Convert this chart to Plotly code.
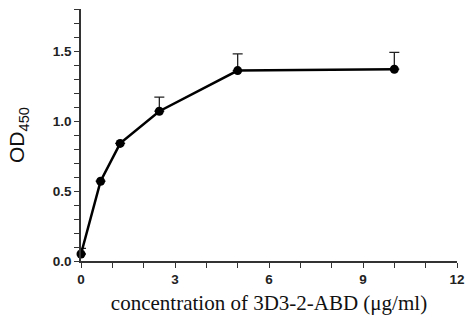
import plotly.graph_objects as go

conc = [0, 0.625, 1.25, 2.5, 5, 10]
od450 = [0.05, 0.57, 0.84, 1.07, 1.36, 1.37]
err = [0.04, 0.0, 0.0, 0.10, 0.12, 0.12]

fig = go.Figure()
fig.add_trace(go.Scatter(
    x=conc, y=od450, mode="lines+markers",
    line=dict(color="black", width=2.5),
    marker=dict(color="black", size=9),
    error_y=dict(type="data", array=err, arrayminus=[0]*len(err), color="#222", thickness=1.3, width=5),
    cliponaxis=False, showlegend=False,
))

axis_common = dict(
    showline=True, linecolor="#333", linewidth=1.5, ticks="outside", ticklen=5,
    tickwidth=1.3, tickcolor="#333", showgrid=False, zeroline=False, automargin=False,
    tickfont=dict(family="Liberation Sans", size=13.5, color="#222", weight="bold"),
)
fig.update_xaxes(range=[0, 12], dtick=3, tick0=0,
                 minor=dict(dtick=1, ticks="outside", ticklen=5, tickcolor="#333", tickwidth=1.3),
                 title=dict(text="concentration of 3D3-2-ABD (μg/ml)", standoff=9,
                            font=dict(family="Liberation Serif", size=21, color="#111")),
                 **axis_common)
fig.update_yaxes(range=[0, 1.8], dtick=0.5, tick0=0, tickformat=".1f",
                 minor=dict(dtick=0.1, ticks="outside", ticklen=5, tickcolor="#333", tickwidth=1.3),
                 title=dict(text="OD<sub>450</sub>", standoff=22,
                            font=dict(family="Liberation Sans", size=21, color="#111")),
                 **axis_common)
fig.update_layout(
    width=465, height=323, plot_bgcolor="white", paper_bgcolor="white",
    margin=dict(l=81, r=8, t=9, b=62),
)
fig.write_html("out.html", config={"displayModeBar": False},
               post_script="document.body.style.margin='0';")
